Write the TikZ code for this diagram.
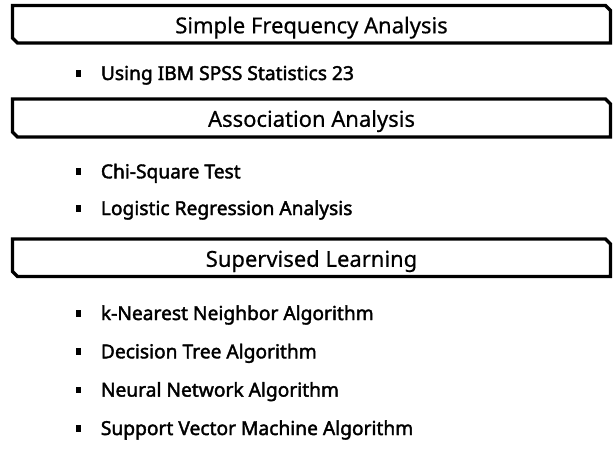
\documentclass[tikz,border=0pt]{standalone}
\usepackage{fontspec}
\setmainfont{Noto Sans}
\newfontfamily\headfont{Noto Sans}[FakeBold=0.5]
\newfontfamily\itemfont{Noto Sans}[FakeBold=2]
\begin{document}
\begin{tikzpicture}[x=1pt,y=-1pt,
    boxline/.style={line width=3.3pt,line join=miter},
    header/.style={anchor=base,inner sep=0pt,font=\fontsize{22}{26}\headfont},
    item/.style={anchor=base west,inner sep=0pt,font=\fontsize{19.2}{23}\itemfont},
    bulletsq/.style={fill=black,inner sep=0pt,minimum width=5pt,minimum height=6.5pt}]
	\useasboundingbox[fill=white] (0,0) rectangle (615,459); % page size of the reference
	% simple frequency analysis
	\draw[boxline] (12.5,5.5) -- (605.5,5.5) -- (610.5,10.5) -- (610.5,43) -- (17.5,43) -- (12.5,38) -- cycle;
	\node[header] (freq) at (311.5,33.3) {Simple Frequency Analysis};
	\node[bulletsq] (bspss) at (78.5,73.4) {};
	\node[item] (spss) at (100.7,80) {Using IBM SPSS Statistics 23};
	% association analysis
	\draw[boxline] (12.5,99) -- (605.5,99) -- (610.5,104) -- (610.5,137) -- (17.5,137) -- (12.5,132) -- cycle;
	\node[header] (assoc) at (311.5,126.8) {Association Analysis};
	\node[bulletsq] (bchi) at (78.5,171.7) {};
	\node[item] (chi) at (100.7,178.3) {Chi-Square Test};
	\node[bulletsq] (blogit) at (78.5,208.4) {};
	\node[item] (logit) at (100.7,215) {Logistic Regression Analysis};
	% supervised learning
	\draw[boxline] (12.5,239) -- (605.5,239) -- (610.5,244) -- (610.5,276.5) -- (17.5,276.5) -- (12.5,271.5) -- cycle;
	\node[header] (superv) at (311.5,266.8) {Supervised Learning};
	\node[bulletsq] (bknn) at (78.5,313.4) {};
	\node[item] (knn) at (100.7,320) {k-Nearest Neighbor Algorithm};
	\node[bulletsq] (btree) at (78.5,351.7) {};
	\node[item] (tree) at (100.7,358.3) {Decision Tree Algorithm};
	\node[bulletsq] (bnn) at (78.5,390) {};
	\node[item] (nn) at (100.7,396.6) {Neural Network Algorithm};
	\node[bulletsq] (bsvm) at (78.5,428.4) {};
	\node[item] (svm) at (100.7,435) {Support Vector Machine Algorithm};
\end{tikzpicture}
\end{document}
